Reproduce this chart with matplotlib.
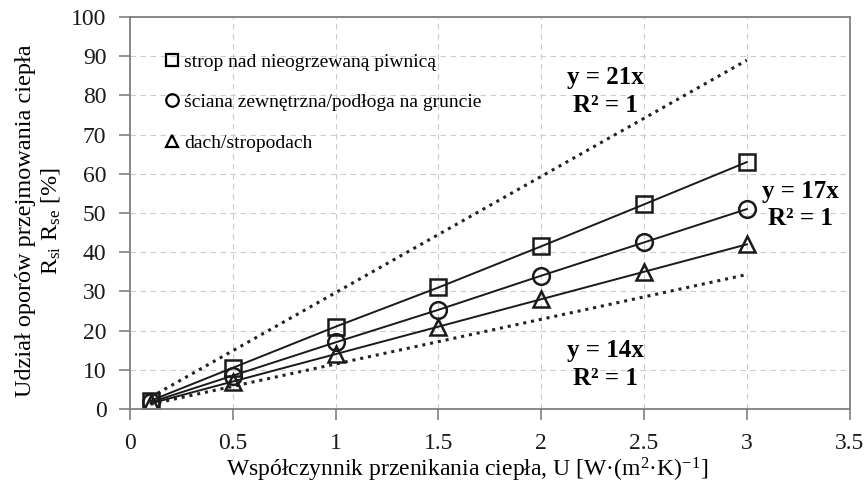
import numpy as np
import matplotlib.pyplot as plt

plt.rcParams['font.family'] = ['Liberation Serif', 'DejaVu Serif']
plt.rcParams['mathtext.fontset'] = 'custom'
plt.rcParams['mathtext.rm'] = 'Liberation Serif'
plt.rcParams['mathtext.it'] = 'Liberation Serif:italic'

# Data
u = [0.1, 0.5, 1.0, 1.5, 2.0, 2.5, 3.0]
strop = [2.1, 10.5, 21.0, 31.0, 41.5, 52.2, 63.0]
sciana = [1.7, 8.5, 17.0, 25.3, 34.0, 42.5, 51.0]
dach = [1.4, 7.0, 14.0, 21.0, 28.0, 35.0, 42.0]

# dotted trend lines (as drawn)
trend_x = [0.1, 3.0]
trend_hi = [3.0, 89.0]
trend_lo = [1.2, 34.3]

labels = ['strop nad nieogrzewaną piwnicą',
          'ściana zewnętrzna/podłoga na gruncie',
          'dach/stropodach']

fig = plt.figure(figsize=(8.67, 4.88), dpi=100)
ax = fig.add_axes([0.15, 0.162, 0.83, 0.803])

ax.plot(trend_x, trend_hi, color='#222222', linestyle=(0, (1, 1.6)), linewidth=2.2)
ax.plot(trend_x, trend_lo, color='#222222', linestyle=(0, (1, 1.6)), linewidth=2.2)

ms = 12
ax.plot(u, strop, color='#1a1a1a', lw=1.4, marker='s', ms=ms, mfc='none', mew=1.8)
ax.plot(u, sciana, color='#1a1a1a', lw=1.4, marker='o', ms=ms, mfc='none', mew=1.8)
ax.plot(u, dach, color='#1a1a1a', lw=1.4, marker='^', ms=ms, mfc='none', mew=1.8)

# legend (markers only)
h1, = ax.plot([], [], ls='none', marker='s', ms=9, mfc='none', mec='black', mew=1.6)
h2, = ax.plot([], [], ls='none', marker='o', ms=9, mfc='none', mec='black', mew=1.6)
h3, = ax.plot([], [], ls='none', marker='^', ms=9, mfc='none', mec='black', mew=1.6)
ax.legend([h1, h2, h3], labels, loc='upper left', bbox_to_anchor=(0.04, 0.928),
          frameon=False, fontsize=14, handlelength=0.6, handletextpad=0.3,
          labelspacing=1.18, borderaxespad=0)

# equations
eq_kw = dict(ha='center', va='center', fontsize=18, fontweight='bold', linespacing=1.25)
ax.text(2.31, 81, 'y = 21x\nR² = 1', **eq_kw)
ax.text(3.26, 52, 'y = 17x\nR² = 1', **eq_kw)
ax.text(2.31, 11.3, 'y = 14x\nR² = 1', **eq_kw)

ax.set_xlim(0, 3.5)
ax.set_ylim(0, 100)
ax.set_xticks(np.arange(0, 3.51, 0.5))
ax.set_xticklabels(['0', '0.5', '1', '1.5', '2', '2.5', '3', '3.5'])
ax.set_yticks(np.arange(0, 101, 10))

ax.grid(True, color='#cccccc', linestyle=(0, (5, 4)), linewidth=0.8)
ax.set_axisbelow(True)
for s in ax.spines.values():
    s.set_color('#808080')
    s.set_linewidth(1.3)
ax.tick_params(axis='both', direction='out', length=8, width=1.2, color='#808080',
               labelsize=17, labelcolor='#1a1a1a')
ax.tick_params(axis='x', pad=9)
ax.tick_params(axis='y', pad=9)

ax.set_xlabel('Współczynnik przenikania ciepła, U [W·(m$^2$·K)$^{-1}$]', fontsize=17)
ax.xaxis.set_label_coords(0.469, -0.12)
ax.set_ylabel('Udział oporów przejmowania ciepła\nR$_{\\rm si}$ R$_{\\rm se}$ [%]',
              fontsize=17.5, linespacing=1.2)
ax.yaxis.set_label_coords(-0.094, 0.48)

fig.savefig('out.png', dpi=100)
